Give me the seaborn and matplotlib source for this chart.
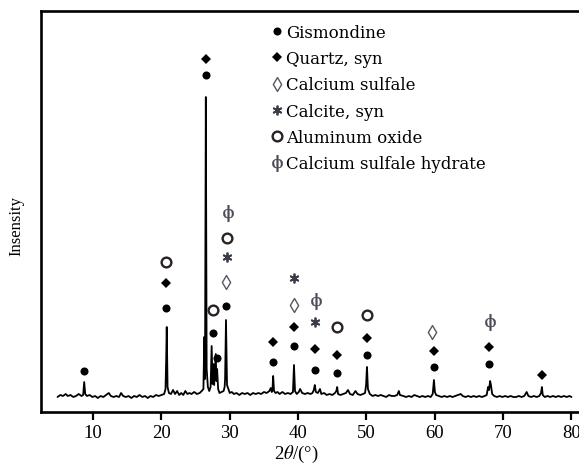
from matplotlib import pyplot as plt
from matplotlib.lines import Line2D
from matplotlib.path import Path
import seaborn as sns

sns.set_style('ticks')
plt.rcParams['font.family'] = ['Liberation Serif', 'DejaVu Serif']
plt.rcParams['mathtext.fontset'] = 'stix'
for key in ['text.color', 'axes.labelcolor', 'axes.edgecolor', 'xtick.color']:
    plt.rcParams[key] = 'black'

# XRD pattern (2theta in degrees, intensity in arbitrary units)
two_theta = [4.8, 5.2, 5.6, 6.0, 6.3, 6.7, 7.1, 7.5, 7.9, 8.3, 8.55, 8.7, 8.85, 9.1, 9.5,
             9.9, 10.3, 10.7, 11.1, 11.5, 11.9, 12.3, 12.6, 13.0, 13.4, 13.8, 14.1, 14.4,
             14.8, 15.2, 15.6, 16.0, 16.4, 16.8, 17.2, 17.6, 18.0, 18.4, 18.8, 19.2, 19.6,
             20.0, 20.4, 20.6, 20.7, 20.78, 20.9, 21.1, 21.4, 21.7, 22.0, 22.3, 22.6, 22.9,
             23.2, 23.5, 23.8, 24.1, 24.4, 24.8, 25.2, 25.6, 25.9, 26.15, 26.27, 26.38,
             26.5, 26.62, 26.8, 27.0, 27.2, 27.35, 27.48, 27.6, 27.72, 27.95, 28.05, 28.15,
             28.3, 28.5, 28.8, 29.1, 29.25, 29.32, 29.45, 29.6, 30.0, 30.3, 30.6, 31.0,
             31.4, 31.8, 32.2, 32.6, 33.0, 33.4, 33.8, 34.2, 34.6, 35.0, 35.4, 35.8, 36.0,
             36.15, 36.25, 36.35, 36.48, 36.7, 37.0, 37.3, 37.7, 38.1, 38.5, 38.9, 39.25,
             39.4, 39.55, 39.8, 40.1, 40.3, 40.6, 41.0, 41.4, 41.8, 42.1, 42.3, 42.45, 42.6,
             42.9, 43.2, 43.4, 43.8, 44.2, 44.6, 45.0, 45.4, 45.6, 45.72, 45.85, 46.2, 46.6,
             47.0, 47.3, 47.6, 48.0, 48.4, 48.7, 49.1, 49.5, 49.8, 49.95, 50.08, 50.22,
             50.5, 50.9, 51.3, 51.7, 52.1, 52.5, 52.9, 53.3, 53.7, 54.1, 54.5, 54.75, 54.9,
             55.4, 55.8, 56.2, 56.6, 57.0, 57.4, 57.8, 58.2, 58.6, 59.0, 59.4, 59.7, 59.88,
             60.02, 60.2, 60.6, 61.0, 61.4, 61.8, 62.2, 62.6, 63.0, 63.4, 63.8, 64.1, 64.5,
             64.9, 65.3, 65.7, 66.1, 66.5, 66.9, 67.3, 67.6, 67.8, 67.95, 68.1, 68.22, 68.4,
             68.7, 69.1, 69.5, 69.9, 70.3, 70.7, 71.1, 71.5, 71.9, 72.3, 72.7, 73.1, 73.45,
             73.7, 74.1, 74.5, 74.9, 75.3, 75.55, 75.68, 75.8, 76.1, 76.5, 76.9, 77.3, 77.7,
             78.1, 78.5, 78.9, 79.3, 79.7, 80.0]
intensity = [2, 4, 3, 5, 3, 4, 2, 3, 5, 3, 4, 17, 5, 3, 4,
             2, 3, 1, 3, 2, 4, 6, 3, 2, 3, 2, 6, 3,
             2, 3, 1, 3, 2, 4, 2, 3, 1, 3, 2, 4, 3,
             4, 5, 10, 40, 72, 12, 6, 5, 9, 5, 8, 4, 6,
             4, 8, 5, 6, 5, 7, 5, 6, 8, 10, 62, 20,
             302, 30, 12, 8, 12, 53, 15, 35, 14, 45, 18, 30,
             10, 6, 7, 8, 12, 20, 79, 14, 6, 7, 5, 6,
             4, 6, 5, 6, 4, 6, 5, 6, 5, 7, 6, 8, 11,
             7, 9, 23, 8, 6, 7, 5, 7, 5, 6, 5, 7,
             34, 8, 5, 7, 10, 6, 5, 6, 5, 6, 9, 14, 7,
             6, 10, 5, 6, 4, 5, 4, 6, 8, 12, 5, 4, 5,
             6, 9, 5, 4, 8, 5, 4, 5, 6, 14, 32, 10,
             5, 3, 4, 3, 4, 3, 2, 4, 3, 3, 4, 8, 4,
             3, 2, 3, 2, 4, 3, 2, 3, 2, 3, 2, 5, 19,
             7, 4, 3, 2, 3, 2, 3, 2, 3, 4, 5, 3, 2,
             3, 2, 3, 2, 3, 2, 3, 4, 12, 9, 18, 14, 5,
             3, 2, 3, 2, 3, 2, 3, 2, 2, 3, 2, 3, 7,
             3, 2, 3, 2, 3, 6, 12, 4, 2, 3, 2, 3, 2,
             3, 2, 3, 2, 3, 2]

# phase labels placed above the peaks
phases = ['Gismondine', 'Quartz, syn', 'Calcium sulfale', 'Calcite, syn',
          'Aluminum oxide', 'Calcium sulfale hydrate']
gismondine_theta = [8.7, 20.7, 26.5, 27.55, 28.15, 29.45, 36.35, 39.4, 42.5, 45.7, 50.1, 59.9, 67.95]
gismondine_y = [28, 91, 324, 66, 41, 93, 37, 53, 29, 26, 44, 32, 35]
quartz_theta = [20.7, 26.5, 36.35, 39.4, 42.5, 45.7, 50.1, 59.9, 67.95, 75.7]
quartz_y = [116, 340, 57, 72, 50, 44, 61, 48, 52, 24]
sulfale_theta = [29.45, 39.4, 59.6]
sulfale_y = [117, 94, 67]
calcite_theta = [29.6, 39.4, 42.5]
calcite_y = [142, 121, 77]
alumina_theta = [20.7, 27.55, 29.6, 45.7, 50.1]
alumina_y = [137, 89, 161, 72, 84]
hydrate_theta = [29.75, 42.6, 68.1]
hydrate_y = [186, 98, 77]

lozenge = Path([(0, -1), (0.6, 0), (0, 1), (-0.6, 0), (0, -1)],
               [Path.MOVETO, Path.LINETO, Path.LINETO, Path.LINETO, Path.CLOSEPOLY])
styles = [dict(marker='o', ms=5.8, color='black', mfc='black', mew=0),
          dict(marker='D', ms=5.2, color='black', mfc='black', mew=0),
          dict(marker=lozenge, ms=10, color='#5a5560', mfc='none', mew=1.0),
          dict(marker=(6, 2, 0), ms=7, color='#3c3c48', mew=1.3),
          dict(marker='o', ms=7, color='#2a2222', mfc='none', mew=1.7),
          dict(marker='$\\mathrm{\\phi}$', ms=12, color='#4a4a58', mew=0.3)]
marks = [(gismondine_theta, gismondine_y), (quartz_theta, quartz_y),
         (sulfale_theta, sulfale_y), (calcite_theta, calcite_y),
         (alumina_theta, alumina_y), (hydrate_theta, hydrate_y)]

fig = plt.figure(figsize=(5.79, 4.64), dpi=100)
ax = fig.add_axes([41 / 579, 51 / 464, 540 / 579, 401 / 464])

sns.lineplot(x=two_theta, y=intensity, ax=ax, color='black', lw=1.3,
             estimator=None, sort=False)

handles = []
for (xs, ys), st in zip(marks, styles):
    ax.plot(xs, ys, ls='none', **st)
    handles.append(Line2D([], [], ls='none', **st))

ax.set_xlim(2.38, 81.4)
ax.set_ylim(-13, 388)
ax.set_xticks(range(10, 81, 10))
ax.set_yticks([])
ax.tick_params(axis='x', direction='out', length=6, width=1.6, labelsize=13.5, pad=3)
for side in ['left', 'top', 'bottom']:
    ax.spines[side].set_linewidth(1.9)
ax.spines['right'].set_visible(False)

ax.set_xlabel('2$\\theta$/(°)', fontsize=13.5)
ax.xaxis.set_label_coords(0.472, -0.078)
ax.set_ylabel('Insensity', fontsize=12)
ax.yaxis.set_label_coords(-0.03, 0.466)

ax.legend(handles, phases, loc='upper left', bbox_to_anchor=(0.4246, 0.968),
          frameon=False, borderpad=0, borderaxespad=0, handlelength=0.8,
          handletextpad=0.15, labelspacing=0.56,
          prop={'family': 'DejaVu Serif', 'size': 12})

fig.savefig('out.png', dpi=100)
